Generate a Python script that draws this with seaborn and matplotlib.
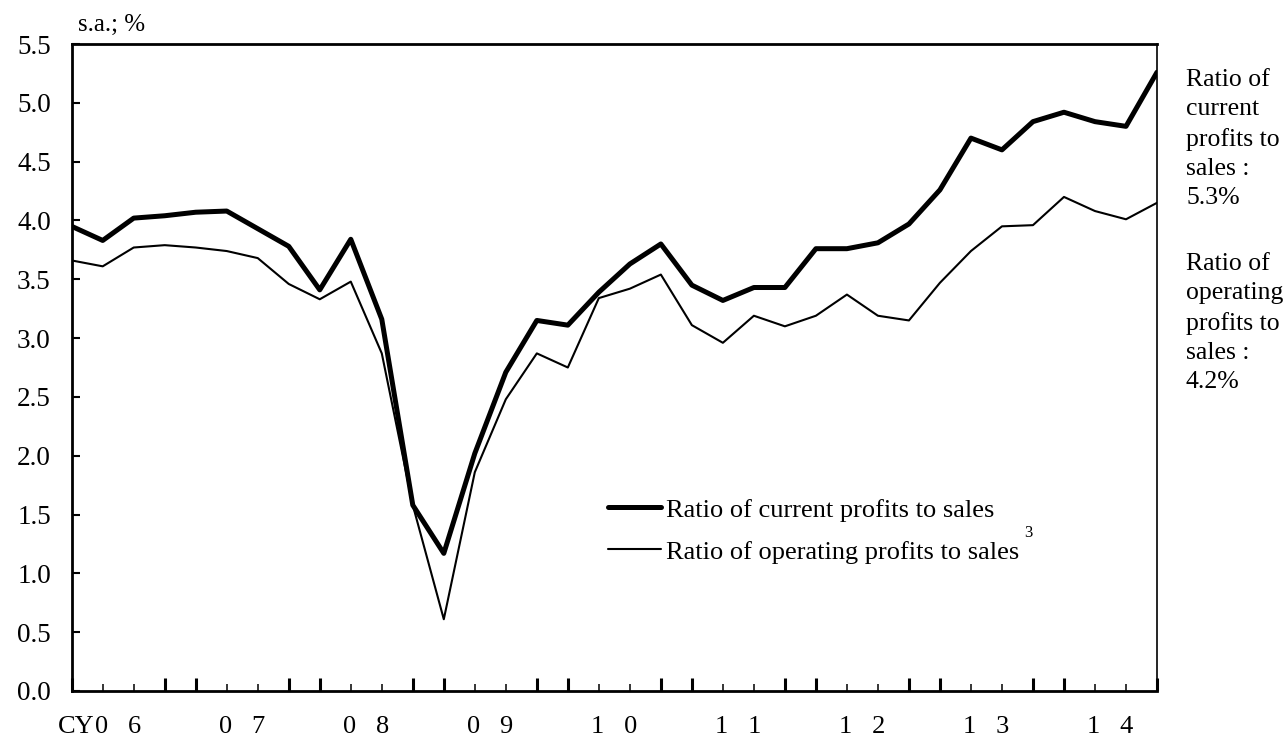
import pandas as pd
import matplotlib.pyplot as plt
import seaborn as sns
from matplotlib.ticker import FixedLocator

# Quarterly ratios, CY2006 Q1 .. CY2014 Q4 (s.a., %)
years = ['0   6', '0   7', '0   8', '0   9', '1   0', '1   1', '1   2', '1   3', '1   4']
quarters = [f'{y}Q{q}' for y in range(2006, 2015) for q in range(1, 5)]
current = [3.95, 3.83, 4.02, 4.04, 4.07, 4.08, 3.93, 3.78, 3.41, 3.84, 3.16, 1.58,
           1.17, 2.02, 2.71, 3.15, 3.11, 3.39, 3.63, 3.80, 3.45, 3.32, 3.43, 3.43,
           3.76, 3.76, 3.81, 3.97, 4.26, 4.70, 4.60, 4.84, 4.92, 4.84, 4.80, 5.26]
operating = [3.66, 3.61, 3.77, 3.79, 3.77, 3.74, 3.68, 3.46, 3.33, 3.48, 2.87, 1.58,
             0.61, 1.86, 2.48, 2.87, 2.75, 3.34, 3.42, 3.54, 3.11, 2.96, 3.19, 3.10,
             3.19, 3.37, 3.19, 3.15, 3.47, 3.74, 3.95, 3.96, 4.20, 4.08, 4.01, 4.15]
yticks = [0.0, 0.5, 1.0, 1.5, 2.0, 2.5, 3.0, 3.5, 4.0, 4.5, 5.0, 5.5]

df = pd.DataFrame({'q': range(len(quarters)), 'current': current, 'operating': operating})

sns.set_style('white')
plt.rcParams['font.family'] = ['Liberation Serif', 'DejaVu Serif']
plt.rcParams['text.color'] = 'black'
plt.rcParams['xtick.color'] = 'black'
plt.rcParams['ytick.color'] = 'black'

fig = plt.figure(figsize=(12.88, 7.36), dpi=100)
W, H = 1288, 736
ax = fig.add_axes([71.7 / W, (H - 691) / H, (1157 - 71.7) / W, (691 - 44) / H])

sns.lineplot(data=df, x='q', y='operating', ax=ax, color='black', linewidth=1.5,
             label='Ratio of operating profits to sales')
sns.lineplot(data=df, x='q', y='current', ax=ax, color='black', linewidth=3.6,
             label='Ratio of current profits to sales')

ax.set_xlim(0, len(quarters) - 1)
ax.set_ylim(0, 5.5)
ax.set_xlabel('')
ax.set_ylabel('')

# y axis
ax.set_yticks(yticks)
ax.set_yticklabels([f'{v:.1f}' for v in yticks])
ax.tick_params(axis='y', left=True, direction='in', length=5.5, width=1.5, pad=15,
               labelsize=19.5, labelcolor='black')

# x axis: tall ticks around year boundaries, short ticks otherwise
n = len(quarters)
tall = [i for i in range(n) if i % 4 in (0, 3)]
short = [i for i in range(n) if i % 4 in (1, 2)]
ax.xaxis.set_major_locator(FixedLocator(tall))
ax.xaxis.set_minor_locator(FixedLocator(short))
ax.tick_params(axis='x', which='major', bottom=True, direction='in', length=9.5, width=2.2,
               labelbottom=False)
ax.tick_params(axis='x', which='minor', bottom=True, direction='in', length=5, width=1.1)
for k, lab in enumerate(years):
    ax.text(4 * k + 1.5, -0.055, lab, transform=ax.get_xaxis_transform(),
            ha='center', va='center', fontsize=19)
ax.text(0.74, -0.055, 'CY', transform=ax.get_xaxis_transform(),
        ha='right', va='center', fontsize=19)

for side in ['left', 'top', 'bottom']:
    ax.spines[side].set_linewidth(2.0)
ax.spines['right'].set_linewidth(1.2)
for s in ax.spines.values():
    s.set_color('black')
    s.set_visible(True)

# legend (current first)
h, l = ax.get_legend_handles_labels()
leg = ax.legend(h[::-1], l[::-1], loc='upper left', bbox_to_anchor=(0.494, 0.298),
                frameon=False, fontsize=19, handlelength=2.0, handletextpad=0.2,
                labelspacing=0.7, borderpad=0, borderaxespad=0)
ax.text(0.878, 0.244, '3', transform=ax.transAxes, fontsize=12, ha='left', va='center')

fig.text(78 / W, 1 - 25 / H, 's.a.; %', ha='left', va='center', fontsize=18)
fig.text(1186 / W, 1 - 139 / H, 'Ratio of\ncurrent\nprofits to\nsales :\n5.3%',
         ha='left', va='center', fontsize=18.5, linespacing=1.42)
fig.text(1186 / W, 1 - 323 / H, 'Ratio of\noperating\nprofits to\nsales :\n4.2%',
         ha='left', va='center', fontsize=18.5, linespacing=1.42)

fig.savefig('out.png', dpi=100)
